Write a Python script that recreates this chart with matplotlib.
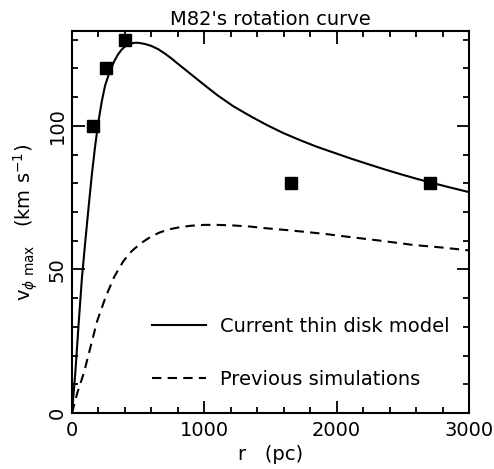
import matplotlib
matplotlib.use("Agg")
import matplotlib.pyplot as plt
from matplotlib.ticker import MultipleLocator

plt.rcParams['font.family'] = ['DejaVu Sans']

# observed points
r_obs = [155, 257, 402, 1655, 2705]
v_obs = [100, 120, 130, 80, 80]

# current thin disk model (solid)
r_model = [0, 25, 50, 75, 100, 125, 150, 175, 200, 225, 250, 275, 300, 325, 350,
           375, 400, 425, 450, 475, 500, 550, 600, 650, 700, 750, 800, 900, 1000,
           1100, 1219, 1350, 1471, 1600, 1723, 1850, 1975, 2100, 2227, 2350, 2479,
           2600, 2731, 2850, 3000]
v_model = [0, 14, 31, 47, 59.5, 71.5, 83, 93, 101.5, 108.5, 114, 117.5, 120.5, 123, 125,
           126.5, 127.6, 128.3, 128.7, 128.9, 128.9, 128.5, 127.8, 126.7, 125.2, 123.5,
           121.6, 117.9, 114.2, 110.6, 106.8, 103.3, 100.3, 97.4, 95.0, 92.7, 90.7, 88.7,
           86.8, 85.0, 83.2, 81.6, 80.0, 78.6, 76.9]

# previous simulations (dashed)
r_prev = [0, 40, 90, 140, 190, 255, 320, 390, 450, 520, 600, 665, 740, 816, 900,
          1000, 1100, 1218, 1350, 1471, 1620, 1774, 1920, 2076, 2330, 2580, 2800, 3000]
v_prev = [0, 7, 14, 23, 32, 40.5, 47.5, 53, 56.3, 59.1, 61.5, 62.9, 64.0, 64.7, 65.2,
          65.5, 65.5, 65.3, 64.9, 64.3, 63.7, 63, 62.3, 61.4, 60, 58.5, 57.6, 56.6]

labels = ["Current thin disk model", "Previous simulations"]

fig = plt.figure(figsize=(4.94, 4.69), dpi=100)
ax = fig.add_axes([72/494, 56/469, 397/494, 382/469])

l1, = ax.plot(r_model, v_model, color='black', lw=1.5, solid_joinstyle='round')
l2, = ax.plot(r_prev, v_prev, color='black', lw=1.5, linestyle=(0, (4.5, 3)))
ax.plot(r_obs, v_obs, linestyle='none', marker='s', markersize=8.5,
        color='black')

ax.set_xlim(0, 3000)
ax.set_ylim(0, 133)
ax.xaxis.set_major_locator(MultipleLocator(1000))
ax.xaxis.set_minor_locator(MultipleLocator(200))
ax.yaxis.set_major_locator(MultipleLocator(50))
ax.yaxis.set_minor_locator(MultipleLocator(10))

ax.tick_params(which='both', direction='in', top=True, right=True,
               width=1.3, labelsize=14)
ax.tick_params(which='major', length=9)
ax.tick_params(which='minor', length=4.5)
ax.tick_params(axis='x', pad=6)
ax.tick_params(axis='y', pad=4)
for lab in ax.get_yticklabels():
    lab.set_rotation(90)
    lab.set_va('center')
for s in ax.spines.values():
    s.set_linewidth(1.5)

ax.set_title("M82's rotation curve", fontsize=14, pad=4)
ax.set_xlabel("r   (pc)", fontsize=14, labelpad=3)
ax.set_ylabel(r"v$_{\phi\ \rm max}$   (km s$^{-1}$)", fontsize=14, labelpad=5)

ax.legend([l1, l2], labels, loc='lower left', bbox_to_anchor=(0.2015, 0.063),
          frameon=False, fontsize=14, handlelength=2.8, handletextpad=0.7,
          labelspacing=1.75, borderpad=0, borderaxespad=0)

fig.savefig("out.png", dpi=100)
